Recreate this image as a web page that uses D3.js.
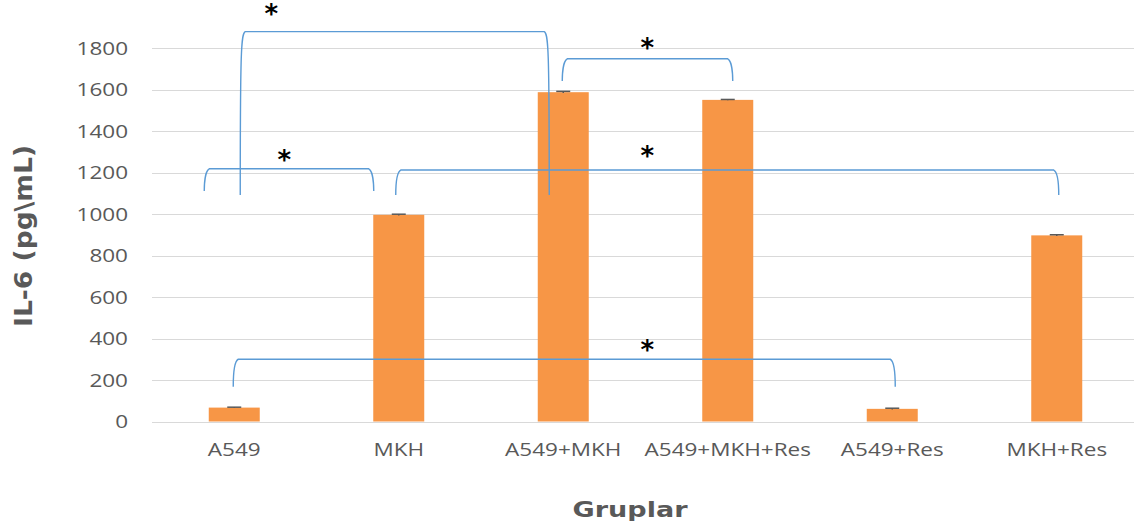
<!DOCTYPE html>
<html>
<head>
<meta charset="utf-8">
<script src="https://cdn.jsdelivr.net/npm/d3@7"></script>
<style>
  body { margin: 0; background: #fff; }
  svg { display: block; }
</style>
</head>
<body>
<div id="chart"></div>
<script>
// Data
const categories = ["A549", "MKH", "A549+MKH", "A549+MKH+Res", "A549+Res", "MKH+Res"];
const values = [67, 996, 1587, 1550, 61, 897];
const errors = [2, 3, 4, 2, 3, 3];
const yTicks = [0, 200, 400, 600, 800, 1000, 1200, 1400, 1600, 1800];

// significance brackets (values in pg/mL)
const bracketFrom = ["A549", "A549", "A549+MKH", "MKH", "A549"];
const bracketTo = ["A549+MKH", "MKH", "A549+MKH+Res", "MKH+Res", "A549+Res"];
const bracketTop = [1879, 1218, 1748, 1212, 300];
const bracketLegEnd = [1091, 1111, 1641, 1092, 168];
const starCat = ["A549", "A549", "A549+MKH", "A549+MKH", "A549+MKH"];
const starValue = [1978, 1275, 1814, 1294, 359];

// layout only
const legOffset = [[7, -15], [-29, -26], [0, 4], [-2, 1], [0, 2]];
const starDx = [37, 50, 84, 84, 84];

const width = 1134, height = 529;
const stretch = 1.25; // reference text is horizontally stretched

const svg = d3.select("#chart")
  .append("svg")
  .attr("width", width)
  .attr("height", height);

const xScale = d3.scaleBand()
  .domain(categories)
  .range([152, 1139])
  .paddingInner(0.69)
  .paddingOuter(0.345);

const yScale = d3.scaleLinear()
  .domain([0, 1800])
  .range([421.5, 48]);

const cx = c => xScale(c) + xScale.bandwidth() / 2;

// widen text the way the reference does
function widen(sel) {
  sel.each(function () {
    const w = this.getComputedTextLength();
    d3.select(this)
      .attr("textLength", w * stretch)
      .attr("lengthAdjust", "spacingAndGlyphs");
  });
}

// Gridlines
svg.append("g")
  .selectAll("line")
  .data(yTicks)
  .enter()
  .append("line")
  .attr("x1", 152)
  .attr("x2", width)
  .attr("y1", d => Math.round(yScale(d)) + 0.5)
  .attr("y2", d => Math.round(yScale(d)) + 0.5)
  .attr("stroke", "#d9d9d9")
  .attr("stroke-width", 1.2);

// Y axis labels
const yAxis = svg.append("g")
  .attr("transform", "translate(128,0)")
  .call(d3.axisLeft(yScale).tickValues(yTicks).tickFormat(d3.format("d")).tickSize(0).tickPadding(0));
yAxis.select(".domain").remove();
yAxis.selectAll("text")
  .attr("font-family", "'Open Sans', sans-serif")
  .attr("font-size", 18)
  .attr("fill", "#595959")
  .attr("dy", "0.36em")
  .call(widen);

// X axis labels
const xAxis = svg.append("g")
  .attr("transform", "translate(0,421.5)")
  .call(d3.axisBottom(xScale).tickSize(0).tickPadding(0));
xAxis.select(".domain").remove();
xAxis.selectAll("text")
  .attr("font-family", "'Open Sans', sans-serif")
  .attr("font-size", 18)
  .attr("fill", "#595959")
  .attr("dy", null)
  .attr("y", 34)
  .call(widen);

// Bars
svg.append("g")
  .selectAll("rect")
  .data(categories)
  .enter()
  .append("rect")
  .attr("x", d => xScale(d))
  .attr("y", (d, i) => yScale(values[i]))
  .attr("width", xScale.bandwidth())
  .attr("height", (d, i) => yScale(0) - yScale(values[i]))
  .attr("fill", "#f79646");

// Error bars
const err = svg.append("g")
  .selectAll("g")
  .data(categories)
  .enter()
  .append("g")
  .attr("stroke", "#595959")
  .attr("stroke-width", 1.5);
err.append("line")
  .attr("x1", d => cx(d))
  .attr("x2", d => cx(d))
  .attr("y1", (d, i) => yScale(values[i] - errors[i]))
  .attr("y2", (d, i) => yScale(values[i] + errors[i]));
err.append("line")
  .attr("x1", d => cx(d) - 7)
  .attr("x2", d => cx(d) + 7)
  .attr("y1", (d, i) => yScale(values[i] + errors[i]))
  .attr("y2", (d, i) => yScale(values[i] + errors[i]));

// Significance brackets
const brackets = bracketFrom.map((f, i) => ({
  x1: cx(f) + legOffset[i][0],
  x2: cx(bracketTo[i]) + legOffset[i][1],
  top: yScale(bracketTop[i]),
  bottom: yScale(bracketLegEnd[i])
}));

svg.append("g")
  .selectAll("path")
  .data(brackets)
  .enter()
  .append("path")
  .attr("d", b => {
    const p = d3.path();
    p.moveTo(b.x1 - 1, b.bottom);
    p.bezierCurveTo(b.x1 - 1, b.top + 15, b.x1, b.top + 2, b.x1 + 4, b.top);
    p.lineTo(b.x2 - 4, b.top);
    p.bezierCurveTo(b.x2, b.top + 2, b.x2 + 1, b.top + 15, b.x2 + 1, b.bottom);
    return p.toString();
  })
  .attr("fill", "none")
  .attr("stroke", "#5b9bd5")
  .attr("stroke-width", 1.4);

// Stars
svg.append("g")
  .selectAll("text")
  .data(starCat)
  .enter()
  .append("text")
  .attr("x", (d, i) => cx(d) + starDx[i])
  .attr("y", (d, i) => yScale(starValue[i]) + 12)
  .attr("text-anchor", "middle")
  .attr("font-family", "'DejaVu Sans', sans-serif")
  .attr("font-weight", "bold")
  .attr("font-size", 26)
  .attr("fill", "#000")
  .text("*");

// Axis titles
svg.append("text")
  .attr("transform", "translate(32,236) scale(1.25,1) rotate(-90)")
  .attr("text-anchor", "middle")
  .attr("font-family", "'DejaVu Sans', sans-serif")
  .attr("font-weight", "bold")
  .attr("font-size", 20)
  .attr("fill", "#595959")
  .attr("textLength", 182)
  .attr("lengthAdjust", "spacingAndGlyphs")
  .text("IL-6 (pg\\mL)");

svg.append("text")
  .attr("x", 630)
  .attr("y", 516.5)
  .attr("text-anchor", "middle")
  .attr("font-family", "'DejaVu Sans', sans-serif")
  .attr("font-weight", "bold")
  .attr("font-size", 22)
  .attr("fill", "#595959")
  .attr("textLength", 115)
  .attr("lengthAdjust", "spacingAndGlyphs")
  .text("Gruplar");
</script>
</body>
</html>
